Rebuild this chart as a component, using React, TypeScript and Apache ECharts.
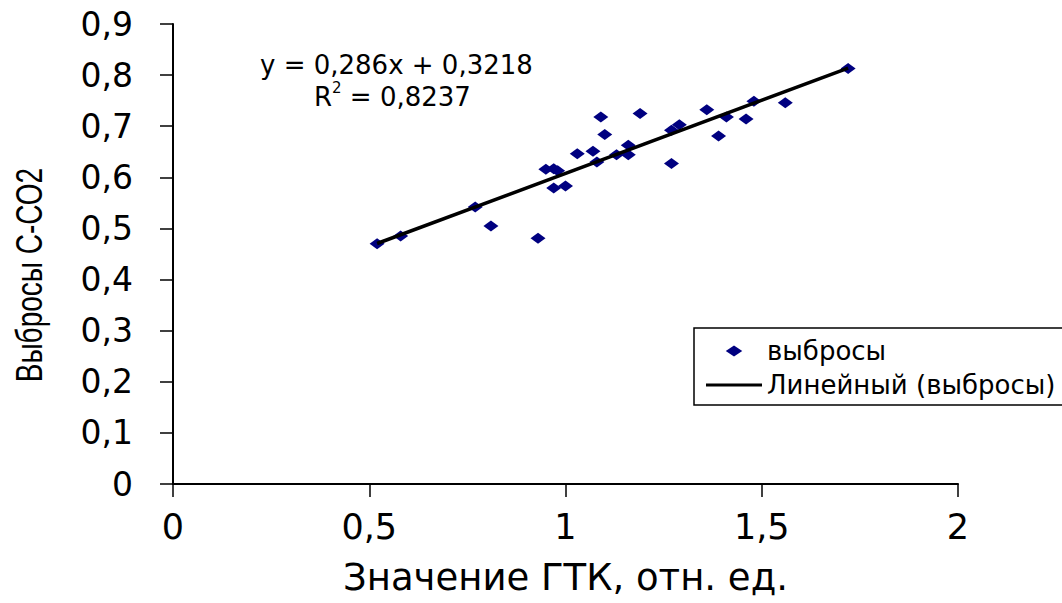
import React, { useEffect, useRef } from "react";
import * as echarts from "echarts";

const gtk = [0.52, 0.58, 0.77, 0.81, 0.93, 0.95, 0.97, 0.98, 0.97, 1.0, 1.03, 1.07, 1.09, 1.08, 1.1, 1.13, 1.16, 1.16, 1.19, 1.27, 1.27, 1.29, 1.36, 1.39, 1.41, 1.46, 1.48, 1.56, 1.72];
const emissions = [0.47, 0.485, 0.542, 0.505, 0.481, 0.616, 0.617, 0.613, 0.579, 0.583, 0.646, 0.651, 0.718, 0.63, 0.684, 0.644, 0.663, 0.644, 0.725, 0.627, 0.692, 0.703, 0.732, 0.681, 0.718, 0.714, 0.749, 0.746, 0.813];
const slope = 0.286;
const intercept = 0.3218;
const rSquared = "0,8237";
const xTicks = [0, 0.5, 1, 1.5, 2];
const yTicks = [0, 0.1, 0.2, 0.3, 0.4, 0.5, 0.6, 0.7, 0.8, 0.9];
const seriesName = "выбросы";
const trendName = "Линейный (выбросы)";
const xTitle = "Значение ГТК, отн. ед.";
const yTitle = "Выбросы С-СО2";

const fmt = (v: number) => String(Math.round(v * 10) / 10).replace(".", ",");

export default function App() {
  const ref = useRef<HTMLDivElement>(null);
  useEffect(() => {
    if (!ref.current) return;
    const chart = echarts.init(ref.current, null, { renderer: "svg" });
    const xMin = Math.min(...gtk);
    const xMax = Math.max(...gtk);
    const trend = [
      [xMin, slope * xMin + intercept],
      [xMax, slope * xMax + intercept],
    ];
    const font = "DejaVu Sans";
    chart.setOption({
      animation: false,
      backgroundColor: "#ffffff",
      grid: { left: 173, right: 104, top: 24, bottom: 119, containLabel: false },
      xAxis: {
        type: "value",
        min: xTicks[0],
        max: xTicks[xTicks.length - 1],
        interval: 0.5,
        name: xTitle,
        nameLocation: "middle",
        nameGap: 75,
        nameTextStyle: { fontFamily: font, fontSize: 37, color: "#000" },
        axisLine: { show: true, onZero: false, lineStyle: { color: "#000", width: 2 } },
        axisTick: { show: true, length: 13, lineStyle: { color: "#000", width: 1.5 } },
        axisLabel: { margin: 25, fontFamily: font, fontSize: 35, color: "#000", formatter: fmt },
        splitLine: { show: false },
      },
      yAxis: {
        type: "value",
        min: yTicks[0],
        max: yTicks[yTicks.length - 1],
        interval: 0.1,
        axisLine: { show: true, onZero: false, lineStyle: { color: "#000", width: 2 } },
        axisTick: { show: true, length: 13, lineStyle: { color: "#000", width: 1.5 } },
        axisLabel: { margin: 40, fontFamily: font, fontSize: 33, color: "#000", formatter: fmt },
        splitLine: { show: false },
      },
      legend: {
        show: true,
        orient: "vertical",
        left: 694,
        top: 328,
        padding: [9, 8, 6, 12],
        itemGap: 6,
        itemWidth: 56,
        itemHeight: 11,
        symbolKeepAspect: true,
        borderColor: "#000",
        borderWidth: 1.5,
        borderRadius: 0,
        backgroundColor: "#fff",
        textStyle: { fontFamily: font, fontSize: 26, color: "#000", lineHeight: 28 },
        data: [
          { name: seriesName, icon: "path://M7.5,0L15,5L7.5,10L0,5Z" },
          { name: trendName, icon: "path://M0,0h56v3h-56z" },
        ],
      },
      graphic: [
        {
          type: "text",
          left: 260,
          top: 52,
          style: {
            text: "y = 0,286x + 0,3218",
            font: `26px '${font}'`,
            fill: "#000",
          },
        },
        {
          type: "text",
          left: 314,
          top: 80,
          style: {
            text: "{a|R}{s|2}{a| = " + rSquared + "}",
            fill: "#000",
            rich: {
              a: { fontFamily: font, fontSize: 26, color: "#000", verticalAlign: "bottom", lineHeight: 30 },
              s: { fontFamily: font, fontSize: 15, color: "#000", verticalAlign: "top", lineHeight: 30, padding: [0, 0, 14, 0] },
            },
          },
        },
        {
          type: "text",
          x: 30,
          y: 275,
          rotation: Math.PI / 2,
          scaleY: 1.3,
          style: {
            text: yTitle,
            font: "28px 'Liberation Sans'",
            fill: "#000",
            align: "center",
            verticalAlign: "middle",
          },
        },
      ],
      series: [
        {
          name: seriesName,
          type: "scatter",
          symbol: "diamond",
          symbolSize: [15, 11],
          itemStyle: { color: "#000080", opacity: 1 },
          data: gtk.map((x, i) => [x, emissions[i]]),
          z: 3,
        },
        {
          name: trendName,
          type: "line",
          symbol: "none",
          lineStyle: { color: "#000", width: 3.5 },
          itemStyle: { color: "#000" },
          data: trend,
          z: 4,
        },
      ],
    });
    return () => chart.dispose();
  }, []);
  return (
    <div
      ref={ref}
      style={{ position: "absolute", left: 0, top: 0, width: 1062, height: 603, background: "#fff" }}
    />
  );
}
